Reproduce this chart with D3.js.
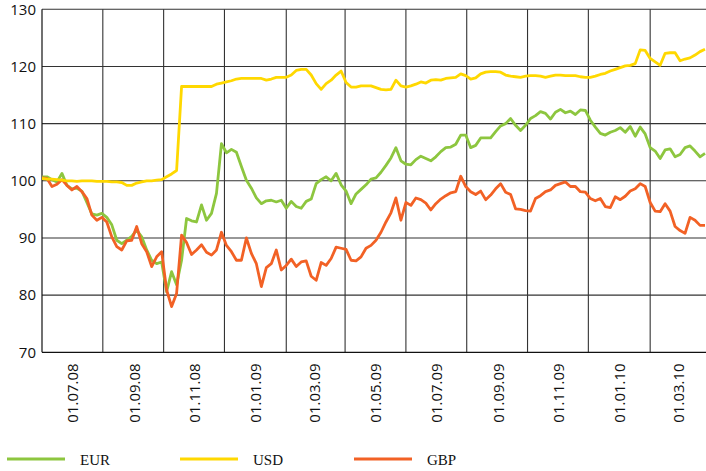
<!DOCTYPE html>
<html>
<head>
<meta charset="utf-8">
<script src="https://cdn.jsdelivr.net/npm/d3@7"></script>
<style>
  html, body { margin: 0; padding: 0; background: #fff; }
  svg { display: block; }
</style>
</head>
<body>
<svg id="chart" width="706" height="471"></svg>
<script>
// ---- Data ----
// First observation and spacing (days) between observations
const startDate = new Date(2008, 5, 1);
const stepDays = 5;

const eurValues = [
  100.7,100.7,100.2,99.8,101.3,99.2,98.6,98.7,98.2,96.2,
  94.2,94.0,94.3,93.6,92.3,89.6,89.0,89.6,90.3,91.4,
  90.2,87.9,86.1,85.5,85.8,80.6,84.1,81.8,86.1,93.4,
  93.0,92.8,95.8,93.1,94.3,97.8,106.5,104.9,105.5,105.0,
  102.5,100.1,98.7,97.0,96.0,96.5,96.6,96.3,96.6,95.2,
  96.4,95.5,95.2,96.4,96.8,99.5,100.2,100.7,100.0,101.3,
  99.3,98.2,96.0,97.7,98.5,99.3,100.3,100.5,101.5,102.7,
  104.0,105.8,103.5,102.9,102.8,103.7,104.3,103.9,103.5,104.2,
  105.1,105.8,105.9,106.4,108.0,108.0,105.8,106.2,107.5,107.5,
  107.5,108.6,109.6,110.0,110.9,109.7,108.8,109.7,110.9,111.4,
  112.1,111.8,110.8,112.0,112.5,111.9,112.2,111.6,112.4,112.3,
  110.6,109.4,108.3,108.0,108.5,108.8,109.3,108.5,109.5,107.8,
  109.4,108.2,105.8,105.2,103.9,105.4,105.6,104.2,104.6,105.8,
  106.1,105.2,104.2,104.8
];

const usdValues = [
  100.4,100.3,100.3,100.2,100.1,100.0,100.0,99.9,100.0,100.0,
  100.0,99.9,99.9,99.9,99.8,99.8,99.7,99.2,99.2,99.6,
  99.8,100.0,100.0,100.1,100.2,100.7,101.2,101.8,116.5,116.5,
  116.5,116.5,116.5,116.5,116.5,116.9,117.1,117.3,117.5,117.8,
  117.9,117.9,117.9,117.9,117.9,117.6,117.8,118.1,118.1,118.1,
  118.5,119.3,119.5,119.5,118.5,117.0,116.0,117.0,117.6,118.5,
  119.2,117.2,116.4,116.4,116.6,116.6,116.6,116.3,116.0,115.9,
  116.0,117.6,116.6,116.4,116.6,116.9,117.3,117.1,117.6,117.7,
  117.6,117.9,118.0,118.1,118.7,118.4,117.8,118.0,118.7,119.0,
  119.1,119.1,119.0,118.5,118.3,118.2,118.1,118.3,118.4,118.4,
  118.3,118.1,118.3,118.5,118.5,118.4,118.4,118.4,118.2,118.1,
  118.1,118.3,118.6,118.8,119.2,119.5,119.8,120.1,120.2,120.5,
  122.9,122.8,121.4,120.8,120.2,122.3,122.4,122.4,121.0,121.3,
  121.5,122.0,122.6,123.0
];

const gbpValues = [
  100.5,100.4,99.0,99.4,100.2,99.2,98.4,99.0,98.1,96.9,
  94.0,93.1,93.6,92.8,90.2,88.5,87.9,89.5,89.6,92.0,
  89.0,87.6,85.0,86.7,87.6,80.9,78.0,80.3,90.5,89.2,
  87.1,87.9,88.8,87.5,87.0,87.9,91.0,88.7,87.6,86.1,
  86.1,90.0,87.3,85.5,81.5,84.8,85.5,87.9,84.4,85.2,
  86.3,85.0,85.8,86.0,83.3,82.6,85.7,85.2,86.4,88.4,
  88.2,88.0,86.1,86.0,86.7,88.2,88.7,89.6,91.0,92.8,
  94.4,97.0,93.1,96.2,95.7,97.0,96.7,96.1,94.9,96.0,
  96.8,97.4,97.9,98.1,100.8,99.0,98.1,97.6,98.2,96.7,
  97.5,98.6,99.5,98.0,97.6,95.1,95.0,94.8,94.7,96.9,
  97.4,98.1,98.4,99.2,99.5,99.8,99.0,99.0,98.1,98.0,
  96.9,96.5,96.9,95.5,95.3,97.2,96.7,97.3,98.2,98.6,
  99.5,99.0,96.2,94.7,94.6,96.0,94.7,92.0,91.3,90.8,
  93.6,93.1,92.2,92.2
];

const seriesNames = ["EUR", "USD", "GBP"];
const seriesColors = ["#8DC63F", "#FFD800", "#F26125"];

const yTicks = [70, 80, 90, 100, 110, 120, 130];
const xLabelDates = [
  "2008-07-01","2008-09-01","2008-11-01","2009-01-01","2009-03-01","2009-05-01",
  "2009-07-01","2009-09-01","2009-11-01","2010-01-01","2010-03-01"
];
const xGridDates = [
  "2008-08-01","2008-10-01","2008-12-01","2009-02-01","2009-04-01",
  "2009-06-01","2009-08-01","2009-10-01","2009-12-01","2010-02-01"
];
const domainStart = "2008-06-01";
const domainEnd = "2010-03-29";

// ---- Chart ----
const parse = d3.timeParse("%Y-%m-%d");
const fmt = d3.timeFormat("%d.%m.%y");
const svg = d3.select("#chart");

const plotLeft = 42, plotRight = 706, plotTop = 9.3, plotBottom = 352.3;

const x = d3.scaleTime().domain([parse(domainStart), parse(domainEnd)]).range([plotLeft, plotRight]);
const y = d3.scaleLinear().domain([70, 130]).range([plotBottom, plotTop]);

const gridColor = "#333";

// horizontal gridlines
svg.append("g").selectAll("line").data(yTicks.filter(v => v > 70)).join("line")
  .attr("x1", plotLeft).attr("x2", plotRight)
  .attr("y1", d => y(d)).attr("y2", d => y(d))
  .attr("stroke", gridColor).attr("stroke-width", 1.1);

// vertical gridlines
svg.append("g").selectAll("line").data(xGridDates.map(parse)).join("line")
  .attr("x1", d => x(d)).attr("x2", d => x(d))
  .attr("y1", plotTop).attr("y2", plotBottom)
  .attr("stroke", gridColor).attr("stroke-width", 1.1);

// axes lines
svg.append("line").attr("x1", plotLeft).attr("x2", plotLeft).attr("y1", plotTop).attr("y2", plotBottom)
  .attr("stroke", "#111").attr("stroke-width", 1.2);
svg.append("line").attr("x1", plotLeft).attr("x2", plotRight).attr("y1", plotBottom).attr("y2", plotBottom)
  .attr("stroke", "#111").attr("stroke-width", 1.2);

// y axis labels
const yAxis = d3.axisLeft(y).tickValues(yTicks).tickSize(0).tickPadding(6);
const gy = svg.append("g").attr("transform", `translate(${plotLeft},0)`).call(yAxis);
gy.select(".domain").remove();
gy.selectAll("text")
  .attr("font-family", "'Open Sans', 'Noto Sans', sans-serif")
  .attr("font-size", 15).attr("fill", "#111");

// x axis labels
const xAxis = d3.axisBottom(x).tickValues(xLabelDates.map(parse)).tickFormat(fmt).tickSize(0);
const gx = svg.append("g").attr("transform", `translate(0,${plotBottom})`).call(xAxis);
gx.select(".domain").remove();
gx.selectAll("text")
  .attr("font-family", "'Open Sans', 'Noto Sans', sans-serif")
  .attr("font-size", 15).attr("fill", "#111")
  .attr("text-anchor", "end")
  .attr("y", 0)
  .attr("x", 0)
  .attr("transform", "translate(0,11) rotate(-90)")
  .attr("dy", "0.36em");

// series
const allValues = [eurValues, usdValues, gbpValues];
const line = d3.line()
  .x((d, i) => x(d3.timeDay.offset(startDate, i * stepDays)))
  .y(d => y(d));

svg.append("defs").append("clipPath").attr("id", "clip")
  .append("rect").attr("x", plotLeft).attr("y", 0).attr("width", plotRight - plotLeft).attr("height", plotBottom);

const drawOrder = [0, 2, 1];
const gLines = svg.append("g").attr("clip-path", "url(#clip)");
drawOrder.forEach(k => {
  gLines.append("path")
    .datum(allValues[k])
    .attr("d", line)
    .attr("fill", "none")
    .attr("stroke", seriesColors[k])
    .attr("stroke-width", 2.8)
    .attr("stroke-linejoin", "round");
});

// legend
const legendX = [7, 180, 354];
const legend = svg.append("g");
seriesNames.forEach((name, i) => {
  legend.append("line")
    .attr("x1", legendX[i]).attr("x2", legendX[i] + 58)
    .attr("y1", 459).attr("y2", 459)
    .attr("stroke", seriesColors[i]).attr("stroke-width", 2.8);
  legend.append("text")
    .attr("x", legendX[i] + 73).attr("y", 465)
    .attr("font-family", "'Liberation Serif', 'Times New Roman', serif")
    .attr("font-size", 15).attr("fill", "#111")
    .text(name);
});
</script>
</body>
</html>
